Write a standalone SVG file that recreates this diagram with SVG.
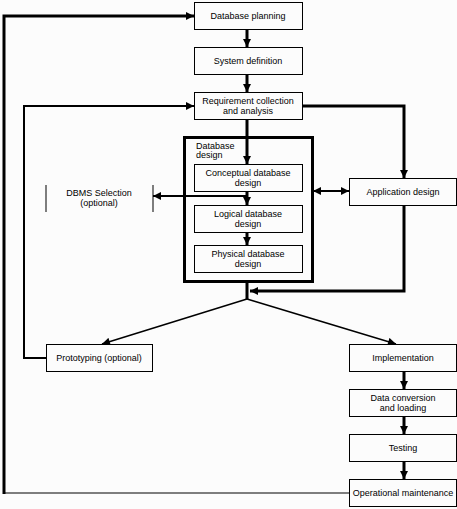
<svg xmlns="http://www.w3.org/2000/svg" width="457" height="509" viewBox="0 0 457 509">
<defs>
<style>
.box{fill:#fcfcfc;stroke:#000;stroke-width:1}
.outer{fill:none;stroke:#000;stroke-width:3}
.t{font-family:"Liberation Sans",Arial,sans-serif;font-size:9px;fill:#000;text-anchor:middle}
.c{fill:none;stroke:#000;stroke-linejoin:miter}
.w3{stroke-width:3}
.w2{stroke-width:2}
.w1{stroke-width:1.5}
.w0{stroke-width:1}
</style>
<marker id="a" viewBox="0 0 10 10" refX="10" refY="5" markerUnits="userSpaceOnUse" markerWidth="9" markerHeight="8" orient="auto-start-reverse">
<path d="M0,0 L10,5 L0,10 Z" fill="#000"/>
</marker>
</defs>
<rect width="457" height="509" fill="#fcfcfc"/>

<g id="connectors">
<path class="c w3" d="M247,29 V47" marker-end="url(#a)"/>
<path class="c w3" d="M247,74 V92" marker-end="url(#a)"/>
<path class="c w3" d="M247,119 V164" marker-end="url(#a)"/>
<path class="c w3" d="M247,191 V205" marker-end="url(#a)"/>
<path class="c w3" d="M247,232 V245" marker-end="url(#a)"/>
<path class="c w2" d="M247,196 H153" marker-end="url(#a)"/>
<path class="c w2" d="M313,191 H349" marker-start="url(#a)" marker-end="url(#a)"/>
<path class="c w3" d="M302,106 H404 V178" marker-end="url(#a)"/>
<path class="c w3" d="M404,205 V291 H250" marker-end="url(#a)"/>
<path class="c w3" d="M247,282 V299"/>
<path class="c w1" d="M247,299 L102,344" marker-end="url(#a)"/>
<path class="c w1" d="M247,299 L396,344" marker-end="url(#a)"/>
<path class="c w2" d="M46,358 H24 V106 H194" marker-end="url(#a)"/>
<path class="c w3" d="M404,371 V389" marker-end="url(#a)"/>
<path class="c w3" d="M404,416 V434" marker-end="url(#a)"/>
<path class="c w3" d="M404,461 V479" marker-end="url(#a)"/>
<path class="c w0" d="M349,493 H4"/>
<path class="c w3" d="M4,494 V16 H194" marker-end="url(#a)"/>
</g>

<g id="database-planning">
<rect class="box" x="194.5" y="2.5" width="108" height="27"/>
<text class="t" x="248" y="19">Database planning</text>
</g>
<g id="system-definition">
<rect class="box" x="194.5" y="47.5" width="108" height="27"/>
<text class="t" x="248" y="64">System definition</text>
</g>
<g id="requirement-collection">
<rect class="box" x="194.5" y="92.5" width="108" height="27"/>
<text class="t" x="248" y="104">Requirement collection</text>
<text class="t" x="248" y="114">and analysis</text>
</g>
<g id="database-design">
<rect class="outer" x="184.5" y="137.5" width="128" height="144"/>
<text class="t" x="196" y="149" style="text-anchor:start">Database</text>
<text class="t" x="196" y="158" style="text-anchor:start">design</text>
</g>
<g id="conceptual-design">
<rect class="box" x="194.5" y="164.5" width="108" height="27"/>
<text class="t" x="248" y="176">Conceptual database</text>
<text class="t" x="248" y="186">design</text>
</g>
<g id="logical-design">
<rect class="box" x="194.5" y="205.5" width="108" height="27"/>
<text class="t" x="248" y="217">Logical database</text>
<text class="t" x="248" y="227">design</text>
</g>
<g id="physical-design">
<rect class="box" x="194.5" y="245.5" width="108" height="27"/>
<text class="t" x="248" y="257">Physical database</text>
<text class="t" x="248" y="267">design</text>
</g>
<g id="dbms-selection">
<path d="M46,185 V212 M153,185 V212" stroke="#000" stroke-width="1"/>
<text class="t" x="99" y="196">DBMS Selection</text>
<text class="t" x="99" y="206">(optional)</text>
</g>
<g id="application-design">
<rect class="box" x="349.5" y="178.5" width="107" height="27"/>
<text class="t" x="403" y="195">Application design</text>
</g>
<g id="prototyping">
<rect class="box" x="46.5" y="344.5" width="106" height="27"/>
<text class="t" x="99" y="361">Prototyping (optional)</text>
</g>
<g id="implementation">
<rect class="box" x="349.5" y="344.5" width="107" height="27"/>
<text class="t" x="403" y="361">Implementation</text>
</g>
<g id="data-conversion">
<rect class="box" x="349.5" y="389.5" width="107" height="27"/>
<text class="t" x="403" y="401">Data conversion</text>
<text class="t" x="403" y="411">and loading</text>
</g>
<g id="testing">
<rect class="box" x="349.5" y="434.5" width="107" height="27"/>
<text class="t" x="403" y="451">Testing</text>
</g>
<g id="operational-maintenance">
<rect class="box" x="349.5" y="479.5" width="107" height="27"/>
<text class="t" x="403" y="496">Operational maintenance</text>
</g>
</svg>
